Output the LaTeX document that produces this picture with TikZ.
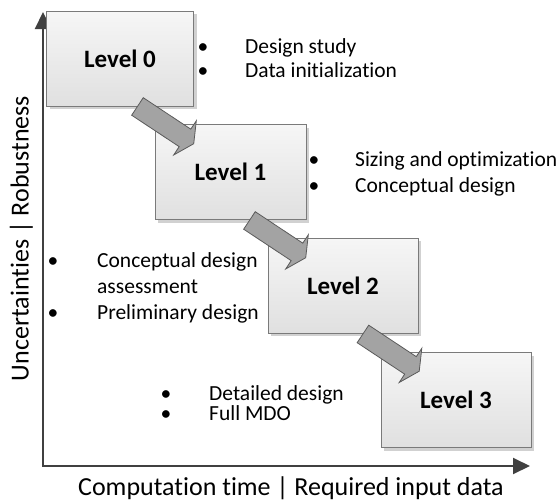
\documentclass[tikz,border=0pt]{standalone}
\usepackage{fontspec}
\setmainfont{Carlito}[Ligatures={NoCommon}]
\usetikzlibrary{arrows.meta,shadows,calc}
\definecolor{axisgray}{HTML}{404040}
\definecolor{boxline}{HTML}{7A7A7A}
\definecolor{boxtop}{HTML}{F6F6F6}
\definecolor{boxbot}{HTML}{E0E0E0}
\definecolor{arrfill}{HTML}{A3A3A3}
\definecolor{arrline}{HTML}{5A5A5A}
\begin{document}
\begin{tikzpicture}[x=1pt,y=-1pt,
  levelbox/.style={draw=boxline, line width=0.9pt, top color=boxtop, bottom color=boxbot,
    minimum width=150pt, minimum height=95pt, inner sep=0pt,
    font=\fontsize{25}{30}\selectfont\bfseries,
    drop shadow={shadow xshift=3pt, shadow yshift=-3pt, opacity=0.18, fill=black}},
  bul/.style={anchor=base, inner sep=0pt, font=\fontsize{21.5}{25}\selectfont},
  btext/.style={anchor=base west, inner sep=0pt, font=\fontsize{21.5}{25}\selectfont},
  axislbl/.style={anchor=base, inner sep=0pt, font=\fontsize{26}{30}\selectfont},
  axisline/.style={draw=axisgray, line width=2pt, line join=miter,
    {Triangle[length=17pt,width=16pt]}-{Triangle[length=17pt,width=16pt]}},
  blockarrow/.style={fill=arrfill, draw=arrline, line width=0.8pt, line join=miter}
]
\useasboundingbox (0,0) rectangle (558,501);

% axes
\coordinate (O) at (43,466);
\coordinate (ytip) at (43,12);
\coordinate (xtip) at (530,466);
\draw[axisline] (ytip) -- (O) -- (xtip);

\node[axislbl, rotate=90] (ylab) at (28.5,238.5) {Uncertainties | Robustness};
\node[axislbl] (xlab) at (291,495) {Computation time | Required input data};

% level boxes
\node[levelbox, minimum width=147pt] (L0) at (120,58.5) {Level 0};
\node[levelbox, minimum width=151pt] (L1) at (230.5,172) {Level 1};
\node[levelbox] (L2) at (343,285.5) {Level 2};
\node[levelbox] (L3) at (456,400) {Level 3};

% block arrows
\path[blockarrow, shift={($(L0.south east)+(-56.5,0)$)}, rotate=-33.5]
  (0,-10.5) -- (57,-10.5) -- (57,-20.5) -- (67.5,0) -- (57,20.5) -- (57,10.5) -- (0,10.5) -- cycle;
\path[blockarrow, shift={($(L1.south east)+(-57,0.5)$)}, rotate=-33.5]
  (0,-10.5) -- (57,-10.5) -- (57,-20.5) -- (67.5,0) -- (57,20.5) -- (57,10.5) -- (0,10.5) -- cycle;
\path[blockarrow, shift={($(L2.south east)+(-55.5,0.5)$)}, rotate=-33.5]
  (0,-10.5) -- (57,-10.5) -- (57,-20.5) -- (67.5,0) -- (57,20.5) -- (57,10.5) -- (0,10.5) -- cycle;

% bullet lists
\node[bul] (b0a) at (203,53) {•};
\node[btext] (t0a) at (245,53) {Design study};
\node[bul] (b0b) at (203,77) {•};
\node[btext] (t0b) at (245,77) {Data initialization};

\node[bul] (b1a) at (314,166) {•};
\node[btext] (t1a) at (355,166) {Sizing and optimization};
\node[bul] (b1b) at (314,192) {•};
\node[btext] (t1b) at (355,192) {Conceptual design};

\node[bul] (b2a) at (53,267) {•};
\node[btext] (t2a) at (97,267) {Conceptual design};
\node[btext] (t2b) at (97,293) {assessment};
\node[bul] (b2c) at (53,319) {•};
\node[btext] (t2c) at (97,319) {Preliminary design};

\node[bul] (b3a) at (166,400) {•};
\node[btext] (t3a) at (209,400) {Detailed design};
\node[bul] (b3b) at (166,420) {•};
\node[btext] (t3b) at (209,420) {Full MDO};
\end{tikzpicture}
\end{document}
